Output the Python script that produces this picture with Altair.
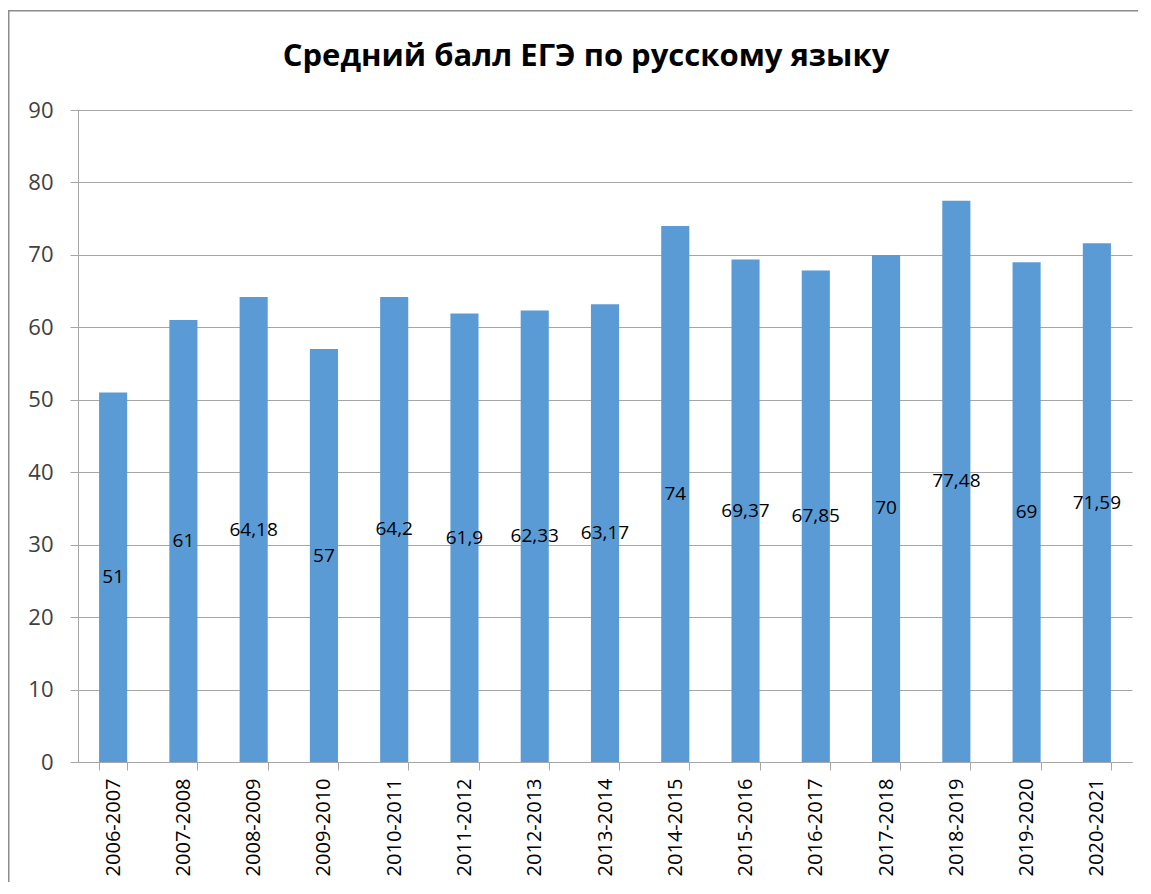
import altair as alt
import pandas as pd

title_text = "Средний балл ЕГЭ по русскому языку"
periods = ["2006-2007", "2007-2008", "2008-2009", "2009-2010", "2010-2011",
           "2011-2012", "2012-2013", "2013-2014", "2014-2015", "2015-2016",
           "2016-2017", "2017-2018", "2018-2019", "2019-2020", "2020-2021"]
scores = [51, 61, 64.18, 57, 64.2, 61.9, 62.33, 63.17, 74, 69.37, 67.85, 70, 77.48, 69, 71.59]
score_labels = ["51", "61", "64,18", "57", "64,2", "61,9", "62,33", "63,17", "74",
                "69,37", "67,85", "70", "77,48", "69", "71,59"]
y_ticks = [0, 10, 20, 30, 40, 50, 60, 70, 80, 90]

df = pd.DataFrame({"period": periods, "score": scores, "label": score_labels})

GRID = "#A6A6A6"
FRAME = "#8C8C8C"
FONT = "Open Sans"

x_enc = alt.X("period:N", sort=periods,
              scale=alt.Scale(paddingInner=0.6, paddingOuter=0.3),
              axis=alt.Axis(title=None, tickBand="extent", labelAngle=270,
                            labelFont=FONT, labelFontSize=20, labelColor="#000000",
                            labelPadding=8, tickSize=8, tickColor=GRID,
                            domainColor=GRID, grid=False))
y_enc = alt.Y("score:Q", scale=alt.Scale(domain=[0, 90], nice=False),
              axis=alt.Axis(title=None, values=y_ticks, grid=True, gridColor=GRID,
                            domainColor=GRID, tickColor=GRID, tickSize=8,
                            labelFont=FONT, labelFontSize=22, labelColor="#404040",
                            labelPadding=17))

bars = alt.Chart(df).mark_bar(color="#5B9BD5").encode(x=x_enc, y=y_enc)

labels = alt.Chart(df).transform_calculate(half="datum.score / 2").mark_text(
    font=FONT, fontSize=19, color="#000000", baseline="middle"
).encode(x=alt.X("period:N", sort=periods), y=alt.Y("half:Q"), text="label:N")

title = alt.Chart(pd.DataFrame({"t": [title_text]})).mark_text(
    font=FONT, fontSize=31, fontWeight="bold", color="#000000",
    align="center", baseline="alphabetic"
).encode(text="t:N", x=alt.value(508), y=alt.value(-44))

frame_src = pd.DataFrame({"f": [1]})
frame_top = alt.Chart(frame_src).mark_rect(color=FRAME, strokeWidth=0).encode(
    x=alt.value(-70), x2=alt.value(1060), y=alt.value(-100), y2=alt.value(-98.5))
frame_left = alt.Chart(frame_src).mark_rect(color=FRAME, strokeWidth=0).encode(
    x=alt.value(-70), x2=alt.value(-68.5), y=alt.value(-100), y2=alt.value(772))

chart = alt.layer(frame_top, frame_left, bars, labels, title).properties(
    width=1054, height=652,
    autosize=alt.AutoSizeParams(type="none"),
    padding={"left": 70, "top": 102, "right": 11, "bottom": 120},
).configure_view(stroke=None)

chart.save("out.html", embed_options={"renderer": "svg", "actions": False})
